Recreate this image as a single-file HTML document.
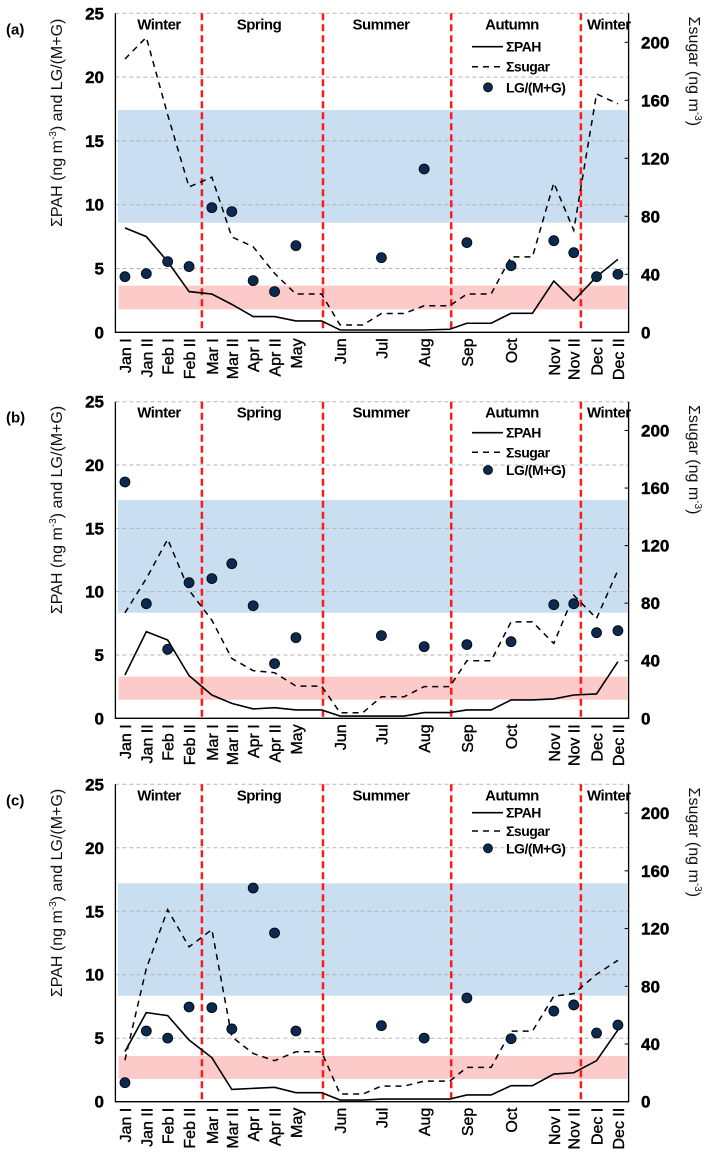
<!DOCTYPE html>
<html><head><meta charset="utf-8"><style>
html,body{margin:0;padding:0;background:#fff;}
svg{display:block;font-family:"Liberation Sans",Arial,sans-serif;}
</style></head><body>
<svg id="chart" width="711" height="1159" viewBox="0 0 711 1159"></svg>
<script>
// Sampling days (day of year) for dots and line vertices
const dotLabels = ["Jan I","Jan II","Feb I","Feb II","Mar I","Mar II","Apr I","Apr II","May","Jun","Jul","Aug","Sep","Oct","Nov I","Nov II","Dec I","Dec II"];
const labelDays = [8,23,38,53,69,83,98,113,128,159,188,218,248,279,309,323,339,354];
const dotDays = [8,23,38,53,69,83,98,113,128,188,218,248,279,309,323,339,354];
const lineDays = [8,23,38,53,69,83,98,113,128,146,159,175,188,204,218,236,248,265,279,294,309,323,339,354];
const seasonBreakDays = [62,147,237,328];
const leftTicks = [0,5,10,15,20,25];
const rightTicks = [0,40,80,120,160,200];

const pahA = [8.18,7.5,5.54,3.19,3.0,2.19,1.23,1.23,0.89,0.89,0.18,0.18,0.18,0.18,0.18,0.24,0.71,0.71,1.49,1.49,4.02,2.48,4.36,5.72];
const sugarA = [188.5,203.4,150,100.2,107,65.8,59,40.6,26.4,26.4,5,5,13,13,18.3,18.3,26.4,26.4,52,52,103,70.4,164.4,157.6];
const lgA = [4.36,4.6,5.54,5.15,9.77,9.46,4.05,3.19,6.79,5.85,12.8,7.03,5.22,7.18,6.24,4.36,4.55];
const pahB = [3.42,6.84,6.18,3.37,1.84,1.18,0.74,0.84,0.66,0.66,0.18,0.18,0.18,0.18,0.45,0.45,0.66,0.66,1.45,1.45,1.53,1.84,1.92,4.47];
const sugarB = [73.3,97.1,124.4,89,68.2,41.6,33.1,31.7,22.4,22.4,3.9,3.9,15,15,22,22,40,40,67,67,52,85.5,69.4,102.9];
const lgB = [18.66,9.05,5.45,10.71,11.03,12.21,8.89,4.32,6.37,6.53,5.66,5.82,6.05,8.97,9.05,6.76,6.92];
const pahC = [3.94,7.02,6.78,4.86,3.47,0.97,1.05,1.13,0.71,0.71,0.13,0.13,0.21,0.21,0.21,0.21,0.53,0.53,1.26,1.26,2.18,2.28,3.23,5.65];
const sugarC = [28.8,92.3,133.1,107.3,119.3,45,33.4,28.4,34.6,34.6,5.3,5.3,10.8,10.8,14.3,14.3,23.8,23.8,48.9,48.9,73.1,74.9,88.3,98];
const lgC = [1.5,5.57,5.01,7.46,7.41,5.73,16.83,13.29,5.57,5.99,5.01,8.17,4.96,7.14,7.62,5.41,6.04];
const bandsA = [8.59,17.42,1.8,3.66];
const bandsB = [8.34,17.24,1.47,3.29];
const bandsC = [8.35,17.2,1.79,3.6];

const NS = "http://www.w3.org/2000/svg";
const svg = document.getElementById("chart");
function mk(tag, attrs, parent, text){
  const e = document.createElementNS(NS, tag);
  for (const k in attrs) e.setAttribute(k, attrs[k]);
  if (text !== undefined) e.textContent = text;
  (parent || svg).appendChild(e);
  return e;
}
const X0 = 115.4, X1 = 628.6, D0 = 1.3, D1 = 361.5;
function xs(d){ return X0 + (d - D0) / (D1 - D0) * (X1 - X0); }

function panel(tag, top, bottom, pah, sugar, lg, bands, legendY){
  const g = mk("g", {});
  
  
  const yl = v => bottom - v / 25 * (bottom - top);
  const yr = v => bottom - v / 220 * (bottom - top);
  const b1 = mk("rect", {x:117.9, y:yl(bands[1]), width:509.6, height:yl(bands[0])-yl(bands[1]), fill:"#c9def0"}, g);
  
  
  const b2 = mk("rect", {x:118.5, y:yl(bands[3]), width:509, height:yl(bands[2])-yl(bands[3]), fill:"#fdcaca"}, g);
  
  
  leftTicks.forEach(t => {
    if (t > 0) {
      const gl = mk("line", {x1:X0, x2:X1, y1:yl(t), y2:yl(t), stroke:"#b5b5b5", "stroke-width":1, "stroke-dasharray":"4,3"}, g);
      
      
    }
    const tl = mk("text", {x:104, y:yl(t)+6, "text-anchor":"end", "font-size":17, "font-weight":"bold", fill:"#000", stroke:"#000", "stroke-width":0.4}, g, t);
    
    
  });
  rightTicks.forEach(t => {
    mk("line", {x1:X1-4, x2:X1, y1:yr(t), y2:yr(t), stroke:"#000"}, g);
    const tl = mk("text", {x:641, y:yr(t)+6, "font-size":17, "font-weight":"bold", fill:"#000", stroke:"#000", "stroke-width":0.4}, g, t);
    
    
  });
  const ax = mk("path", {d:`M${X0},${top} V${bottom} H${X1} V${top}`, fill:"none", stroke:"#000", "stroke-width":1.3}, g);
  
  
  seasonBreakDays.forEach(d => {
    const l = mk("line", {x1:xs(d), x2:xs(d), y1:top, y2:bottom, stroke:"#ff1a1a", "stroke-width":2.5, "stroke-dasharray":"7,4"}, g);
    
    
  });
  [["Winter",159,"middle"],["Spring",259,"middle"],["Summer",381,"middle"],["Autumn",512,"middle"],["Winter",587,"start"]].forEach(s => {
    const t = mk("text", {x:s[1], y:top+16, "text-anchor":s[2], "font-size":15, "font-weight":"bold", "letter-spacing":"-0.5"}, g, s[0]);
    
    
  });
  const pPah = lineDays.map((d,i) => xs(d)+","+yl(pah[i])).join(" ");
  const lp = mk("polyline", {points:pPah, fill:"none", stroke:"#000", "stroke-width":1.6}, g);
  
  
  const pSug = lineDays.map((d,i) => xs(d)+","+yr(sugar[i])).join(" ");
  const ls = mk("polyline", {points:pSug, fill:"none", stroke:"#000", "stroke-width":1.5, "stroke-dasharray":"6,5"}, g);
  
  
  dotDays.forEach((d,i) => {
    const c = mk("circle", {cx:xs(d), cy:yl(lg[i]), r:5.0, fill:"#0b2a4f", stroke:"#000", "stroke-width":0.8}, g);
    
    
  });
  labelDays.forEach((d,i) => {
    const x = xs(d) + 6, y = bottom + 6;
    const t = mk("text", {x:x, y:y, transform:`rotate(-90 ${x} ${y})`, "text-anchor":"end", "font-size":16, fill:"#000", stroke:"#000", "stroke-width":0.35}, g, dotLabels[i]);
    
    
  });
  const lg1 = mk("g", {}, g);
  
  
  mk("line", {x1:472, x2:503, y1:legendY[0], y2:legendY[0], stroke:"#000", "stroke-width":1.6}, lg1);
  mk("text", {x:506, y:legendY[0]+5, "font-size":14, "font-weight":"bold", "letter-spacing":"-0.5"}, lg1, "ΣPAH");
  mk("line", {x1:472, x2:503, y1:legendY[1], y2:legendY[1], stroke:"#000", "stroke-width":1.5, "stroke-dasharray":"6,5"}, lg1);
  mk("text", {x:506, y:legendY[1]+5, "font-size":14, "font-weight":"bold", "letter-spacing":"-0.5"}, lg1, "Σsugar");
  mk("circle", {cx:488, cy:legendY[2], r:4.5, fill:"#0b2a4f", stroke:"#000", "stroke-width":0.8}, lg1);
  mk("text", {x:506, y:legendY[2]+5, "font-size":14, "font-weight":"bold", "letter-spacing":"-0.5"}, lg1, "LG/(M+G)");
  const mid = (top + bottom) / 2 - 50;
  const lt = mk("text", {x:62, y:mid, transform:`rotate(-90 62 ${mid})`, "text-anchor":"middle", "font-size":16, fill:"#111"}, g);
  
  
  lt.innerHTML = 'ΣPAH (ng m<tspan font-size="10" dy="-6">-3</tspan><tspan dy="6">) and LG/(M+G)</tspan>';
  const rmid = top + 58;
  const rt = mk("text", {x:689, y:rmid, transform:`rotate(90 689 ${rmid})`, "text-anchor":"middle", "font-size":16, fill:"#111"}, g);
  
  
  rt.innerHTML = 'Σsugar (ng m<tspan font-size="10" dy="-6">-3</tspan><tspan dy="6">)</tspan>';
  const pl = mk("text", {x:6, y:top+21, "font-size":15, "font-weight":"bold"}, g, "(" + tag + ")");
  
  
}
panel("a", 13.3, 332.3, pahA, sugarA, lgA, bandsA, [46.7,66.7,87.3]);
panel("b", 401.7, 718.3, pahB, sugarB, lgB, bandsB, [432.7,452.3,470]);
panel("c", 784.3, 1101.7, pahC, sugarC, lgC, bandsC, [812.7,831,848.3]);
</script>
</body></html>
